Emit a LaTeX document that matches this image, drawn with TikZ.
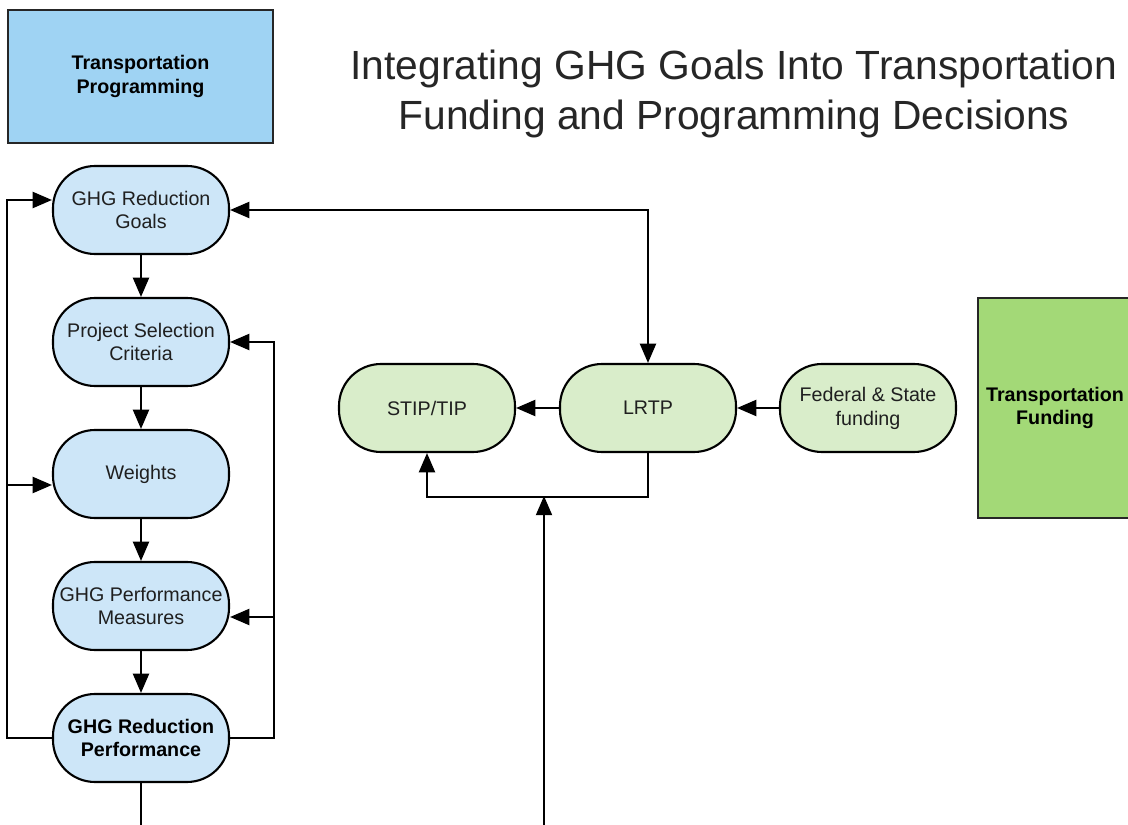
\documentclass[tikz,border=0pt]{standalone}
\usepackage{fontspec}
\setmainfont{Liberation Sans}
\usetikzlibrary{arrows.meta}

\definecolor{progblue}{HTML}{9FD3F3}
\definecolor{stepblue}{HTML}{CDE6F8}
\definecolor{fundgreen}{HTML}{A3D977}
\definecolor{stepgreen}{HTML}{D9EDCA}

\tikzset{
  pill/.style={draw=black, line width=1.5pt, rounded corners=1.05cm,
    minimum width=4.4cm, minimum height=2.2cm, inner sep=0pt,
    align=center, text=black!88, font=\fontsize{14}{17}\selectfont},
  bluepill/.style={pill, fill=stepblue},
  greenpill/.style={pill, fill=stepgreen},
  headbox/.style={draw=black!85, line width=1.5pt, align=center,
    font=\bfseries\fontsize{14}{17}\selectfont},
  flow/.style={line width=1.4pt, -{Triangle[length=0.48cm,width=0.4cm]}},
}

\begin{document}
\begin{tikzpicture}
\useasboundingbox (0,0) rectangle (28.2,20.6);
\clip (0,0) rectangle (28.2,20.6);

% headings
\node[headbox, fill=progblue, minimum width=6.625cm, minimum height=3.325cm] (prog) at (3.5125,18.69) {Transportation\\Programming};
\node[align=center, text=black!85, font=\fontsize{29}{36}\selectfont] (title) at (18.35,18.25) {Integrating GHG Goals Into Transportation\\Funding and Programming Decisions};
\node[headbox, fill=fundgreen, minimum width=3.85cm, minimum height=5.5cm] (fund) at (26.375,10.4) {Transportation\\Funding};

% programming steps
\node[bluepill] (goals) at (3.525,15.35) {GHG Reduction\\Goals};
\node[bluepill] (crit) at (3.525,12.05) {Project Selection\\Criteria};
\node[bluepill] (weights) at (3.525,8.75) {Weights};
\node[bluepill] (meas) at (3.525,5.45) {GHG Performance\\Measures};
\node[bluepill, font=\bfseries\fontsize{14}{17}\selectfont, text=black] (perf) at (3.525,2.15) {GHG Reduction\\Performance};

% funding steps
\node[greenpill] (stip) at (10.675,10.4) {STIP/TIP};
\node[greenpill] (lrtp) at (16.2,10.4) {LRTP};
\node[greenpill] (fed) at (21.7,10.4) {Federal \& State\\funding};

\coordinate (tee) at (13.6,8.2);
\coordinate (low) at (13.6,-0.5);

\draw[flow] (goals) -- (crit);
\draw[flow] (crit) -- (weights);
\draw[flow] (weights) -- (meas);
\draw[flow] (meas) -- (perf);

% feedback loops
\draw[flow] (perf.west) -- ++(-1.125,0) |- ([yshift=0.25cm]goals.west);
\draw[flow] ([xshift=-1.125cm,yshift=-0.275cm]weights.west) -- ([yshift=-0.275cm]weights.west);
\draw[flow] (perf.east) -- ++(1.1,0) |- (crit.east);
\draw[flow] ([xshift=1.1cm,yshift=-0.275cm]meas.east) -- ([yshift=-0.275cm]meas.east);

\draw[line width=1.4pt, {Triangle[length=0.48cm,width=0.4cm]}-{Triangle[length=0.48cm,width=0.4cm]}] (goals.east) -| (lrtp.north);
\draw[flow] (fed) -- (lrtp);
\draw[flow] (lrtp) -- (stip);
\draw[flow] (lrtp.south) -- ++(0,-1.1) -| (stip.south);
\draw[flow] (perf.south) |- (low) -- (tee);
\end{tikzpicture}
\end{document}
